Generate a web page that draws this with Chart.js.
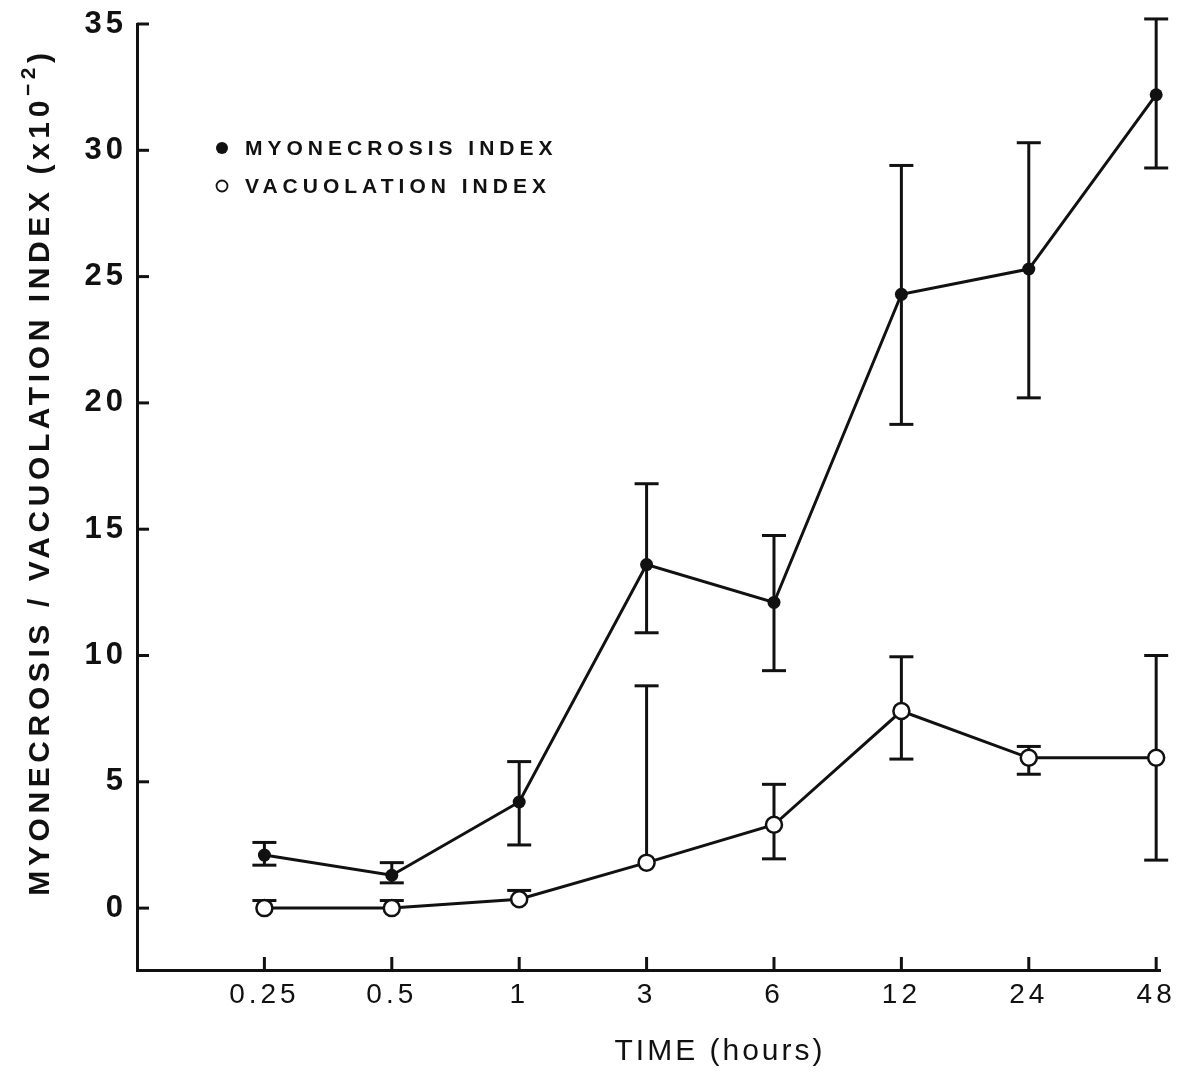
<!DOCTYPE html>
<html><head><meta charset="utf-8">
<style>html,body{margin:0;padding:0;background:#fff;}#wrap{width:1194px;height:1072px;}</style>
<script src="https://cdn.jsdelivr.net/npm/chart.js@4/dist/chart.umd.min.js"></script>
</head><body><div id="wrap"><canvas id="c" width="1194" height="1072"></canvas></div>
<script>
// ---- data ----
const categories = ['0.25', '0.5', '1', '3', '6', '12', '24', '48'];
const myoMean  = [2.1, 1.3, 4.2, 13.6, 12.1, 24.3, 25.3, 32.2];
const myoUpper = [2.6, 1.8, 5.8, 16.8, 14.75, 29.4, 30.3, 35.2];
const myoLower = [1.7, 1.0, 2.5, 10.9, 9.4, 19.15, 20.2, 29.3];
const vacMean  = [0, 0, 0.35, 1.8, 3.3, 7.8, 5.95, 5.95];
const vacUpper = [0.3, 0.3, 0.7, 8.8, 4.9, 9.95, 6.4, 10.0];
const vacLower = [0, 0, 0.35, 1.8, 1.95, 5.9, 5.3, 1.9];
const yTicks = [0, 5, 10, 15, 20, 25, 30, 35];
const legendLabels = ['MYONECROSIS INDEX', 'VACUOLATION INDEX'];
const xTitle = 'TIME (hours)';
const yTitleMain = 'MYONECROSIS / VACUOLATION INDEX (x10';
const yTitleSup = '\u22122';
const yTitleEnd = ')';

const INK = '#111111';
const FONT = "'Liberation Sans', Arial, Helvetica, sans-serif";

const pts = arr => arr.map((v, i) => ({x: i, y: v}));

const decor = {
  id: 'decor',
  beforeDraw(chart) { chart.ctx.letterSpacing = '4px'; },
  beforeDatasetsDraw(chart) {
    const {ctx, scales: {x, y}} = chart;
    ctx.save();
    ctx.strokeStyle = INK; ctx.lineWidth = 3; ctx.lineCap = 'butt';
    const cap = 12;
    const bars = (mean, up, lo) => {
      for (let i = 0; i < mean.length; i++) {
        const px = x.getPixelForValue(i), pm = y.getPixelForValue(mean[i]);
        [up[i], lo[i]].forEach(v => {
          if (Math.abs(v - mean[i]) < 1e-9) return;
          const pv = y.getPixelForValue(v);
          ctx.beginPath(); ctx.moveTo(px, pm); ctx.lineTo(px, pv); ctx.stroke();
          ctx.beginPath(); ctx.moveTo(px - cap, pv); ctx.lineTo(px + cap, pv); ctx.stroke();
        });
      }
    };
    bars(myoMean, myoUpper, myoLower);
    bars(vacMean, vacUpper, vacLower);
    ctx.restore();
  },
  afterDraw(chart) {
    const {ctx, chartArea: a, scales: {x, y}} = chart;
    ctx.save();
    ctx.strokeStyle = INK; ctx.lineWidth = 3;
    yTicks.forEach(v => {
      const py = y.getPixelForValue(v);
      ctx.beginPath(); ctx.moveTo(a.left, py); ctx.lineTo(a.left + 12, py); ctx.stroke();
    });
    categories.forEach((c, i) => {
      const px = x.getPixelForValue(i);
      ctx.beginPath(); ctx.moveTo(px, a.bottom); ctx.lineTo(px, a.bottom - 13); ctx.stroke();
    });
    // legend
    ctx.fillStyle = INK;
    ctx.beginPath(); ctx.arc(222, 148, 6, 0, Math.PI * 2); ctx.fill();
    ctx.lineWidth = 1.8;
    ctx.beginPath(); ctx.arc(222, 186, 5.5, 0, Math.PI * 2); ctx.stroke();
    ctx.font = 'bold 21px ' + FONT;
    ctx.letterSpacing = '5px';
    ctx.textAlign = 'left'; ctx.textBaseline = 'middle';
    ctx.fillText(legendLabels[0], 245, 149);
    ctx.fillText(legendLabels[1], 245, 187);
    // x title
    ctx.font = '30px ' + FONT;
    ctx.letterSpacing = '3px';
    ctx.textAlign = 'center';
    ctx.fillText(xTitle, 720, 1052);
    // y title
    ctx.translate(41, 472);
    ctx.rotate(-Math.PI / 2);
    ctx.textAlign = 'left';
    ctx.letterSpacing = '4.6px';
    const fMain = 'bold 30px ' + FONT, fSup = 'bold 21px ' + FONT;
    ctx.font = fMain; const w1 = ctx.measureText(yTitleMain).width, w3 = ctx.measureText(yTitleEnd).width;
    ctx.font = fSup; const w2 = ctx.measureText(yTitleSup).width;
    let sx = -(w1 + w2 + w3) / 2;
    ctx.font = fMain; ctx.fillText(yTitleMain, sx, 0); sx += w1;
    ctx.font = fSup; ctx.fillText(yTitleSup, sx, -12); sx += w2;
    ctx.font = fMain; ctx.fillText(yTitleEnd, sx, 0);
    ctx.restore();
  }
};

new Chart(document.getElementById('c'), {
  type: 'line',
  data: {
    datasets: [
      {label: legendLabels[0], data: pts(myoMean), borderColor: INK, borderWidth: 3,
       pointRadius: 6.5, pointBackgroundColor: INK, pointBorderColor: INK, pointBorderWidth: 0, tension: 0, clip: false},
      {label: legendLabels[1], data: pts(vacMean), borderColor: INK, borderWidth: 3,
       pointRadius: 8, pointBackgroundColor: '#fff', pointBorderColor: INK, pointBorderWidth: 2.5, tension: 0, clip: false}
    ]
  },
  options: {
    responsive: false, animation: false,
    layout: {padding: {top: 24, right: 34, left: 0, bottom: 0}},
    plugins: {legend: {display: false}, tooltip: {enabled: false}},
    scales: {
      x: {
        type: 'linear', min: -1, max: 7.03,
        afterBuildTicks: s => { s.ticks = categories.map((c, i) => ({value: i})); },
        afterFit: s => { s.height = 102; },
        grid: {display: false, drawTicks: false},
        border: {display: true, color: INK, width: 3},
        ticks: {autoSkip: false, maxRotation: 0, padding: 8, color: INK,
          font: {family: FONT, size: 28},
          callback: v => categories[v] ?? ''}
      },
      y: {
        min: -2.45, max: 35,
        afterBuildTicks: s => { s.ticks = yTicks.map(v => ({value: v})); },
        afterFit: s => { s.width = 137; },
        grid: {display: false, drawTicks: false},
        border: {display: true, color: INK, width: 3},
        ticks: {padding: 10, color: INK, font: {family: FONT, size: 31, weight: 'bold', lineHeight: 0.8}}
      }
    }
  },
  plugins: [decor]
});
</script></body></html>
